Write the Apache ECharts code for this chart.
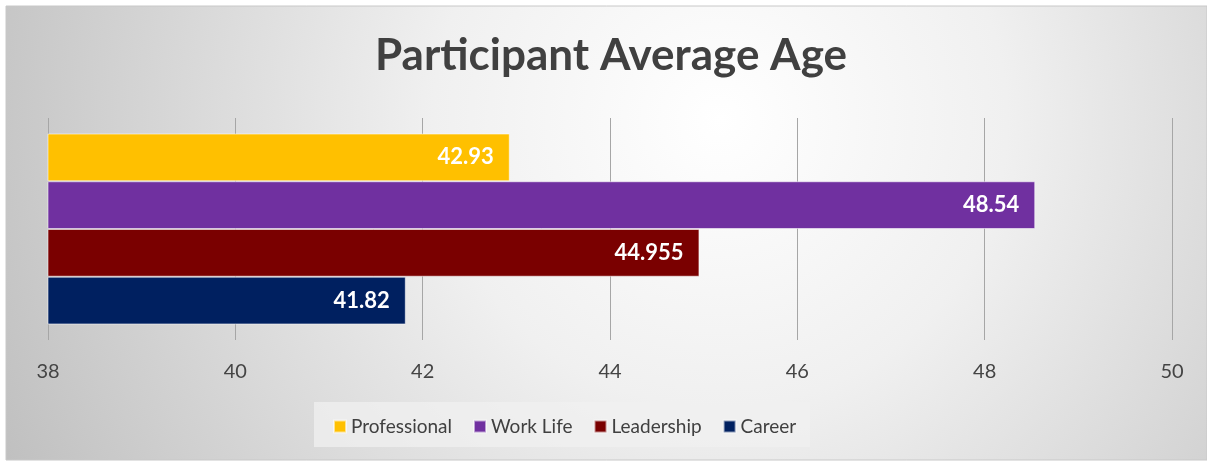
<!DOCTYPE html>
<html>
<head>
<meta charset="utf-8">
<script src="https://cdn.jsdelivr.net/npm/echarts@6/dist/echarts.min.js"></script>
<style>
html,body{margin:0;padding:0;background:#fff;}
#c{width:1207px;height:461px;}
</style>
</head>
<body>
<div id="c"></div>
<script>
const categories = ['Average Age'];
const seriesNames = ['Professional', 'Work Life', 'Leadership', 'Career'];
const professional = [42.93];
const workLife = [48.54];
const leadership = [44.955];
const career = [41.82];
const seriesColors = ['#FFC000', '#7030A0', '#7A0000', '#002060'];
const xTicks = [38, 40, 42, 44, 46, 48, 50];

const values = [professional, workLife, leadership, career];
const chart = echarts.init(document.getElementById('c'), null, {renderer: 'canvas'});
const FONT = 'Lato, "Open Sans", sans-serif';

chart.setOption({
  animation: false,
  graphic: [{
    type: 'rect', z: -10, silent: true,
    shape: {x: 6, y: 6, width: 1201, height: 454},
    style: {
      fill: {
        type: 'radial', x: 720, y: 120, r: 820, global: true,
        colorStops: [
          {offset: 0, color: '#ffffff'},
          {offset: 0.35, color: '#f0f0f0'},
          {offset: 1, color: '#bdbdbd'}
        ]
      },
      stroke: '#c8c8c8', lineWidth: 1
    }
  }, {
    type: 'rect', z: -5, silent: true,
    shape: {x: 314, y: 402, width: 496, height: 45},
    style: {fill: 'rgba(240,240,240,0.75)'}
  }],
  title: {
    text: 'Participant Average Age',
    left: 370, top: 29,
    textStyle: {fontFamily: FONT, fontWeight: 'bold', fontSize: 44, color: '#404040'}
  },
  legend: {
    data: seriesNames,
    left: 328, top: 412,
    icon: 'rect', itemWidth: 12, itemHeight: 12, itemGap: 21,
    textStyle: {fontFamily: FONT, fontSize: 19, color: '#404040'}
  },
  grid: {left: 48, right: 35, top: 118, bottom: 121, containLabel: false},
  xAxis: {
    type: 'value', min: xTicks[0], max: xTicks[xTicks.length - 1], interval: 2,
    axisLine: {show: false}, axisTick: {show: false},
    splitLine: {show: true, lineStyle: {color: '#a6a6a6', width: 1}},
    axisLabel: {fontFamily: FONT, fontSize: 20, color: '#444444', margin: 22}
  },
  yAxis: {
    type: 'category', data: categories, inverse: true,
    axisLine: {show: false}, axisTick: {show: false}, axisLabel: {show: false}
  },
  series: seriesNames.map((name, i) => ({
    name: name, type: 'bar', data: values[i],
    barGap: '0%', barCategoryGap: '14%',
    itemStyle: {color: seriesColors[i], borderColor: 'rgba(255,255,255,0.55)', borderWidth: 1},
    label: {
      show: true, position: 'insideRight', distance: 16,
      fontFamily: FONT, fontWeight: 'bold', fontSize: 22, color: '#ffffff'
    }
  }))
});
</script>
</body>
</html>
